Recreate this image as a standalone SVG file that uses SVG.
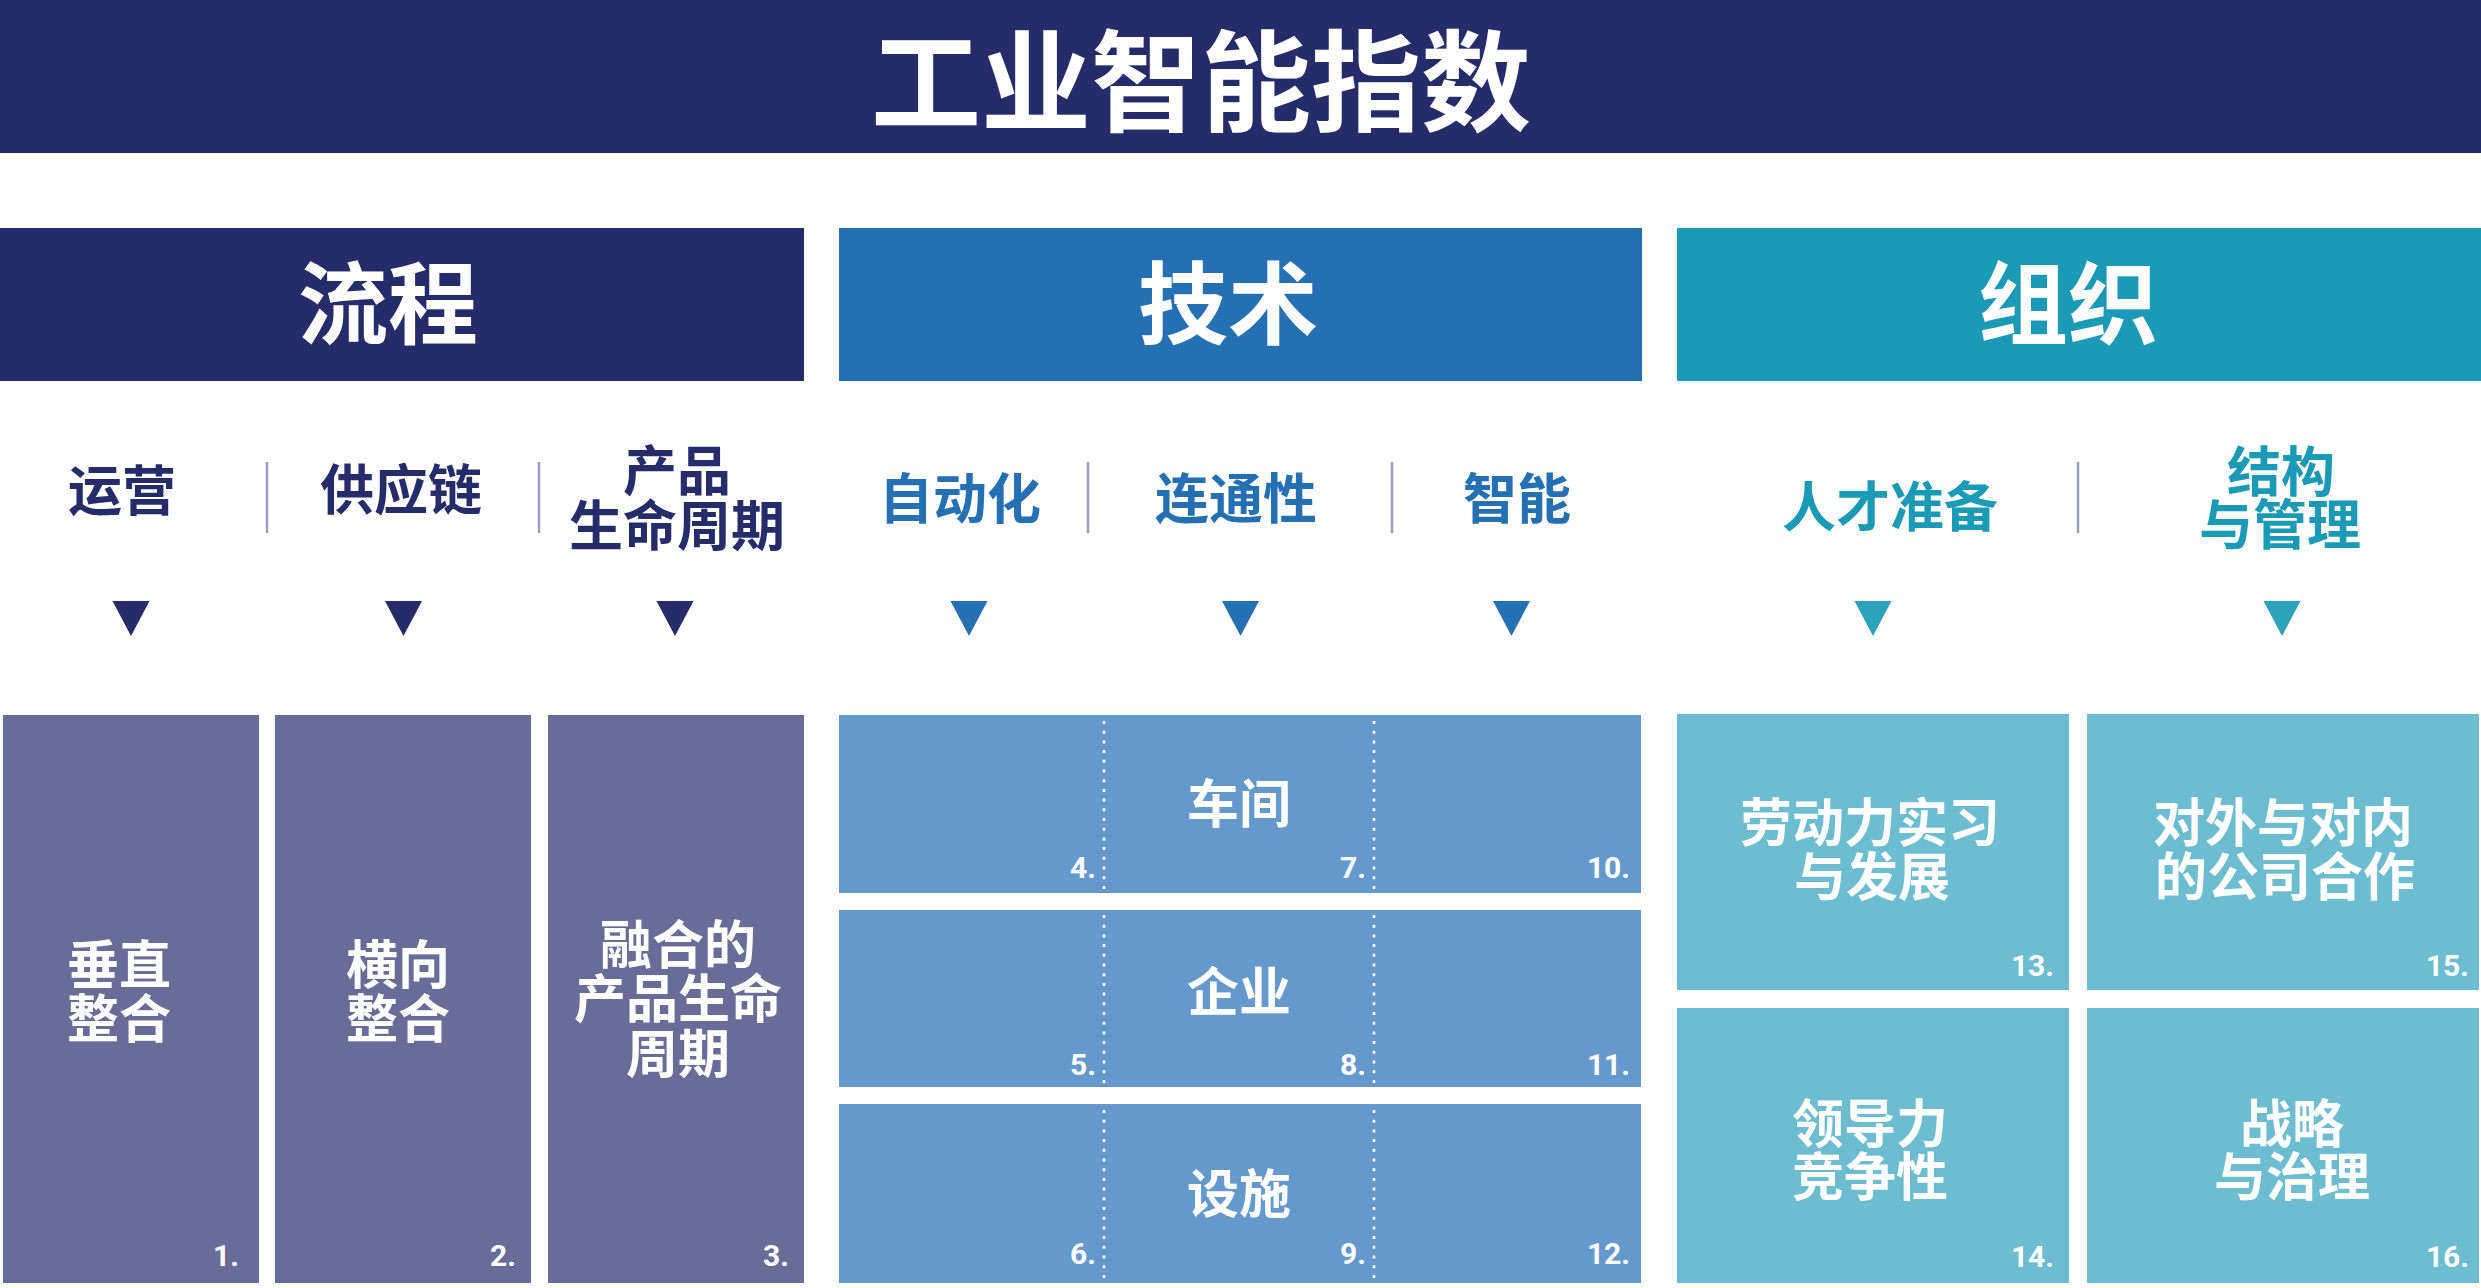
<svg xmlns="http://www.w3.org/2000/svg" width="2481" height="1288" viewBox="0 0 2481 1288">
<style>
text{font-family:"Noto Sans CJK SC","Noto Sans",sans-serif;font-weight:700;text-anchor:middle}
.w{fill:#ffffff}
.num{font-family:Roboto,"Liberation Sans",sans-serif;font-weight:700;font-size:30px;fill:#ffffff;text-anchor:end}
.lbl{font-size:54px}
.card{font-size:52px;fill:#ffffff}
.pc{fill:#6a6c98}
.tc{fill:#6699cb}
.oc{fill:#6dbdd0}
.sep{stroke:#9a9cbf;stroke-width:2.5}
.dot{stroke:#ffffff;stroke-width:2.5;stroke-dasharray:3 6.7}
.navy{fill:#262c69}
.blue{fill:#2470b3}
.teal{fill:#1b9ab5}
.tri-t{fill:#2ba3bb}
</style>
<rect width="2481" height="1288" fill="#ffffff"/>
<g id="title">
<rect x="0" y="0" width="2481" height="153" fill="#262c69"/>
<text class="w" x="1201" y="123" font-size="110">工业智能指数</text>
</g>
<g id="cat-process">
<rect x="0" y="228" width="804" height="153" fill="#262c69"/>
<text class="w" x="388" y="337" font-size="90">流程</text>
</g>
<g id="cat-tech">
<rect x="839" y="228" width="803" height="153" fill="#2470b3"/>
<text class="w" x="1228" y="337" font-size="90">技术</text>
</g>
<g id="cat-org">
<rect x="1677" y="228" width="804" height="153" fill="#1b9ab5"/>
<text class="w" x="2068" y="337" font-size="90">组织</text>
</g>
<g id="separators">
<line class="sep" x1="267" y1="462" x2="267" y2="533"/>
<line class="sep" x1="539" y1="462" x2="539" y2="533"/>
<line class="sep" x1="1088" y1="462" x2="1088" y2="533"/>
<line class="sep" x1="1392" y1="462" x2="1392" y2="533"/>
<line class="sep" x1="2078" y1="462" x2="2078" y2="533"/>
</g>
<g id="sub-operations">
<text class="lbl navy" x="122" y="511">运营</text>
<polygon class="navy" points="112.5,601 149.5,601 131,636"/>
</g>
<g id="sub-supply">
<text class="lbl navy" x="401" y="510">供应链</text>
<polygon class="navy" points="385,601 422,601 403.5,636"/>
</g>
<g id="sub-plm">
<text class="lbl navy" x="677" y="491">产品<tspan x="677" y="546">生命周期</tspan></text>
<polygon class="navy" points="656.5,601 693.5,601 675,636"/>
</g>
<g id="sub-automation">
<text class="lbl blue" x="960" y="519">自动化</text>
<polygon class="blue" points="950.5,601 987.5,601 969,636"/>
</g>
<g id="sub-connectivity">
<text class="lbl blue" x="1236" y="519">连通性</text>
<polygon class="blue" points="1222,601 1259,601 1240.5,636"/>
</g>
<g id="sub-intelligence">
<text class="lbl blue" x="1517" y="519">智能</text>
<polygon class="blue" points="1493,601 1530,601 1511.5,636"/>
</g>
<g id="sub-talent">
<text class="lbl teal" x="1890" y="527">人才准备</text>
<polygon class="tri-t" points="1854.5,601 1891.5,601 1873,636"/>
</g>
<g id="sub-structure">
<text class="lbl teal" x="2281" y="492">结构<tspan x="2280" y="545">与管理</tspan></text>
<polygon class="tri-t" points="2263.5,601 2300.5,601 2282,636"/>
</g>
<g id="card-1">
<rect class="pc" x="3" y="715" width="256" height="568"/>
<text class="card" x="119" y="984">垂直<tspan x="119" y="1038">整合</tspan></text>
<text class="num" x="239" y="1266">1.</text>
</g>
<g id="card-2">
<rect class="pc" x="275" y="715" width="256" height="568"/>
<text class="card" x="398" y="984">横向<tspan x="398" y="1038">整合</tspan></text>
<text class="num" x="516" y="1266">2.</text>
</g>
<g id="card-3">
<rect class="pc" x="548" y="715" width="256" height="568"/>
<text class="card" x="678" y="964">融合的<tspan x="678" y="1018">产品生命</tspan><tspan x="678" y="1073">周期</tspan></text>
<text class="num" x="789" y="1266">3.</text>
</g>
<g id="row-shopfloor">
<rect class="tc" x="839" y="715" width="802" height="178"/>
<text class="card" x="1239" y="823" font-size="54">车间</text>
<text class="num" x="1096" y="878">4.</text>
<text class="num" x="1366" y="878">7.</text>
<text class="num" x="1630" y="878">10.</text>
</g>
<g id="row-enterprise">
<rect class="tc" x="839" y="910" width="802" height="177"/>
<text class="card" x="1239" y="1011" font-size="54">企业</text>
<text class="num" x="1096" y="1075">5.</text>
<text class="num" x="1366" y="1075">8.</text>
<text class="num" x="1630" y="1075">11.</text>
</g>
<g id="row-facility">
<rect class="tc" x="839" y="1104" width="802" height="179"/>
<text class="card" x="1239" y="1213" font-size="54">设施</text>
<text class="num" x="1096" y="1264">6.</text>
<text class="num" x="1366" y="1264">9.</text>
<text class="num" x="1630" y="1264">12.</text>
</g>
<g id="connectors">
<line class="dot" x1="1104" y1="721" x2="1104" y2="890"/>
<line class="dot" x1="1374" y1="721" x2="1374" y2="890"/>
<line class="dot" x1="1104" y1="915" x2="1104" y2="1084"/>
<line class="dot" x1="1374" y1="915" x2="1374" y2="1084"/>
<line class="dot" x1="1104" y1="1110" x2="1104" y2="1280"/>
<line class="dot" x1="1374" y1="1110" x2="1374" y2="1280"/>
</g>
<g id="card-13">
<rect class="oc" x="1677" y="714" width="392" height="276"/>
<text class="card" x="1870" y="842">劳动力实习<tspan x="1872" y="896">与发展</tspan></text>
<text class="num" x="2054" y="976">13.</text>
</g>
<g id="card-15">
<rect class="oc" x="2087" y="714" width="392" height="276"/>
<text class="card" x="2283" y="842">对外与对内<tspan x="2285" y="896">的公司合作</tspan></text>
<text class="num" x="2469" y="976">15.</text>
</g>
<g id="card-14">
<rect class="oc" x="1677" y="1008" width="392" height="275"/>
<text class="card" x="1870" y="1143">领导力<tspan x="1870" y="1196">竞争性</tspan></text>
<text class="num" x="2054" y="1267">14.</text>
</g>
<g id="card-16">
<rect class="oc" x="2087" y="1008" width="392" height="275"/>
<text class="card" x="2292" y="1143">战略<tspan x="2292" y="1196">与治理</tspan></text>
<text class="num" x="2469" y="1267">16.</text>
</g>
</svg>
